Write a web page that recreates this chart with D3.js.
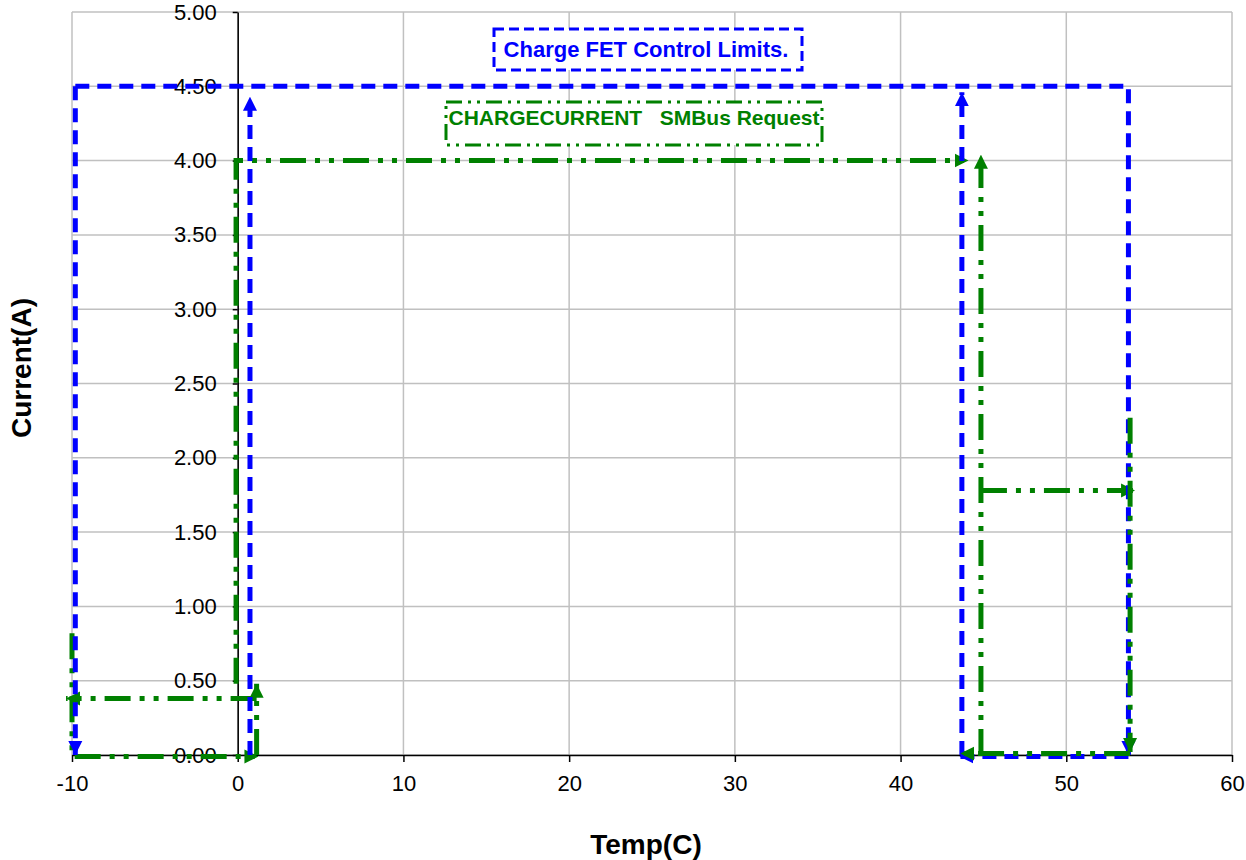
<!DOCTYPE html>
<html>
<head>
<meta charset="utf-8">
<script src="https://cdn.jsdelivr.net/npm/d3@7"></script>
<style>
body { margin: 0; background: #ffffff; }
svg { display: block; font-family: "Liberation Sans", Arial, sans-serif; }
</style>
</head>
<body>
<div id="chart"></div>
<script>
// ----------------------------------------------------------
// DATA -----------------------------------------------------
// ----------------------------------------------------------
var x_ticks = [-10, 0, 10, 20, 30, 40, 50, 60];
var y_ticks = [0, 0.5, 1, 1.5, 2, 2.5, 3, 3.5, 4, 4.5, 5];

// Charge FET control limits (blue), one array of [temp, current] per arrow
var limit_series = [
  [[-9.8, 4.5], [-9.8, 0.0]],
  [[-9.8, 4.5], [53.75, 4.5], [53.75, 0.0]],
  [[53.75, -0.01], [43.55, -0.01]],
  [[43.7, 0.0], [43.7, 4.46]],
  [[0.74, 0.0], [0.74, 4.43]]
];

// CHARGECURRENT SMBus request (green)
var request_series = [
  [[-10.0, 0.82], [-10.0, -0.01], [1.25, -0.01]],
  [[1.14, 0.0], [1.14, 0.48]],
  [[1.14, 0.38], [-10.36, 0.38]],
  [[-0.1, 0.48], [-0.1, 4.0], [44.1, 4.0]],
  [[44.85, 0.0], [44.85, 4.04]],
  [[44.85, 1.78], [54.15, 1.78]]
];
var request_series_top = [
  [[53.85, 2.27], [53.85, 0.02]],
  [[53.85, 0.01], [43.6, 0.01]]
];

var legend_labels = ["Charge FET Control Limits.", "CHARGECURRENT   SMBus Request"];
var axis_titles = ["Temp(C)", "Current(A)"];

// ----------------------------------------------------------
// STRUCTURE ------------------------------------------------
// ----------------------------------------------------------
var width = 1246, height = 860;
var plot = { left: 72, right: 1232, top: 12, bottom: 755 };

var svg = d3.select("#chart").append("svg")
  .attr("width", width)
  .attr("height", height);

var defs = svg.append("defs");
function make_arrow(id, color) {
  defs.append("marker")
    .attr("id", id)
    .attr("viewBox", "0 0 10 10")
    .attr("refX", 10)
    .attr("refY", 5)
    .attr("markerUnits", "userSpaceOnUse")
    .attr("markerWidth", 14)
    .attr("markerHeight", 15)
    .attr("orient", "auto")
    .append("path")
    .attr("d", "M0,0 L10,5 L0,10 Z")
    .style("fill", color);
}
make_arrow("arrow_blue", "#0000ff");
make_arrow("arrow_green", "#008000");

// ----------------------------------------------------------
// SCALES ---------------------------------------------------
// ----------------------------------------------------------
var x = d3.scaleLinear().domain([-10, 60]).range([plot.left, plot.right]);
var y = d3.scaleLinear().domain([0, 5]).range([plot.bottom, plot.top]);

// ----------------------------------------------------------
// GRID -----------------------------------------------------
// ----------------------------------------------------------
var grid = svg.append("g").attr("class", "grid");
grid.selectAll(".vgrid").data(x_ticks).enter().append("line")
  .attr("x1", function(d) { return x(d); })
  .attr("x2", function(d) { return x(d); })
  .attr("y1", y(5))
  .attr("y2", y(0))
  .style("stroke", "#c0c0c0")
  .style("stroke-width", 1.5);
grid.selectAll(".hgrid").data(y_ticks).enter().append("line")
  .attr("x1", x(-10))
  .attr("x2", x(60))
  .attr("y1", function(d) { return y(d); })
  .attr("y2", function(d) { return y(d); })
  .style("stroke", "#c0c0c0")
  .style("stroke-width", 1.5);

// ----------------------------------------------------------
// AXES -----------------------------------------------------
// ----------------------------------------------------------
var x_axis = svg.append("g")
  .attr("transform", "translate(0," + y(0) + ")")
  .call(d3.axisBottom(x).tickValues(x_ticks).tickSize(7).tickSizeOuter(0).tickPadding(13)
    .tickFormat(function(d) { return String(d); }));

var y_axis = svg.append("g")
  .attr("transform", "translate(" + x(0) + ",0)")
  .call(d3.axisLeft(y).tickValues(y_ticks).tickSize(5).tickSizeOuter(0).tickPadding(16)
    .tickFormat(d3.format(".2f")));

[x_axis, y_axis].forEach(function(a) {
  a.selectAll("path, line").style("stroke", "#000000").style("stroke-width", 1.5);
  a.selectAll("text")
    .style("font-family", "'Liberation Sans', Arial, sans-serif")
    .style("font-size", "22px")
    .style("fill", "#000000");
});

// ----------------------------------------------------------
// SERIES ---------------------------------------------------
// ----------------------------------------------------------
var line = d3.line()
  .x(function(d) { return x(d[0]); })
  .y(function(d) { return y(d[1]); });

function draw_series(data, color, dash, marker) {
  svg.append("g").selectAll("path").data(data).enter().append("path")
    .attr("d", line)
    .attr("marker-end", "url(#" + marker + ")")
    .style("fill", "none")
    .style("stroke", color)
    .style("stroke-width", 5)
    .style("stroke-dasharray", dash)
    .style("stroke-linejoin", "miter");
}

var dash_green = "26,9,5,9,5,9";
var dash_blue = "14,8";

draw_series(request_series, "#008000", dash_green, "arrow_green");
draw_series(limit_series, "#0000ff", dash_blue, "arrow_blue");
draw_series(request_series_top, "#008000", dash_green, "arrow_green");

// ----------------------------------------------------------
// LABEL BOXES ----------------------------------------------
// ----------------------------------------------------------
var labels = svg.append("g");
labels.append("rect")
  .attr("x", 494).attr("y", 29).attr("width", 308).attr("height", 41)
  .style("fill", "#ffffff")
  .style("stroke", "#0000ff")
  .style("stroke-width", 3)
  .style("stroke-dasharray", "10,5");
labels.append("text")
  .attr("x", 646).attr("y", 51)
  .attr("text-anchor", "middle")
  .attr("dominant-baseline", "middle")
  .style("font-size", "22px")
  .style("font-weight", "bold")
  .style("fill", "#0000ff")
  .text(legend_labels[0]);

labels.append("rect")
  .attr("x", 446).attr("y", 102).attr("width", 376).attr("height", 43)
  .style("fill", "#ffffff")
  .style("stroke", "#008000")
  .style("stroke-width", 3)
  .style("stroke-dasharray", "16,6,3,6,3,6");
labels.append("text")
  .attr("x", 634).attr("y", 119)
  .attr("text-anchor", "middle")
  .attr("dominant-baseline", "middle")
  .style("white-space", "pre")
  .style("font-size", "21px")
  .style("font-weight", "bold")
  .style("fill", "#008000")
  .text(legend_labels[1]);

// ----------------------------------------------------------
// AXIS TITLES ----------------------------------------------
// ----------------------------------------------------------
svg.append("text")
  .attr("x", 646).attr("y", 854)
  .attr("text-anchor", "middle")
  .style("font-size", "28px")
  .style("font-weight", "bold")
  .text(axis_titles[0]);

svg.append("text")
  .attr("transform", "translate(31,368) rotate(-90)")
  .attr("text-anchor", "middle")
  .style("font-size", "28px")
  .style("font-weight", "bold")
  .text(axis_titles[1]);
</script>
</body>
</html>
